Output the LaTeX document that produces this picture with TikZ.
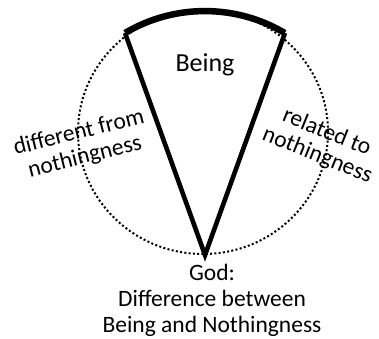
\documentclass[tikz,border=0pt]{standalone}
\usepackage{fontspec}
\setmainfont{Carlito}
\begin{document}
\begin{tikzpicture}[x=1pt, y=1pt,
  label text/.style={align=center, inner sep=0pt, font=\fontsize{23.5}{25}\selectfont},
  dotted ring/.style={line width=2pt, dash pattern=on 2pt off 2.3pt},
  wedge side/.style={line width=4.6pt, line join=miter}]
\useasboundingbox (0,0) rectangle (379,338);
\coordinate (centre) at (203,206);
\coordinate (apex) at (205,83);
\coordinate (lc) at (125,305);
\coordinate (rc) at (285,305);
\draw[dotted ring] (centre) ellipse [x radius=125, y radius=122];
\draw[wedge side] (lc) -- (apex) -- (rc);
\draw[line width=6.5pt] (lc) arc [start angle=120.7, end angle=59.3, radius=156.5];
\node[label text, font=\fontsize{26}{28}\selectfont, anchor=base] (being) at (205,266) {Being};
\node[label text, rotate=14] (different) at (82,193) {different from\\ nothingness};
\node[label text, rotate=-22] (related) at (322,194) {related to\\ nothingness};
\node[label text, font=\fontsize{23.5}{26}\selectfont, anchor=base] (god) at (212,6) {God:\\ Difference between\\ Being and Nothingness};
\end{tikzpicture}
\end{document}
